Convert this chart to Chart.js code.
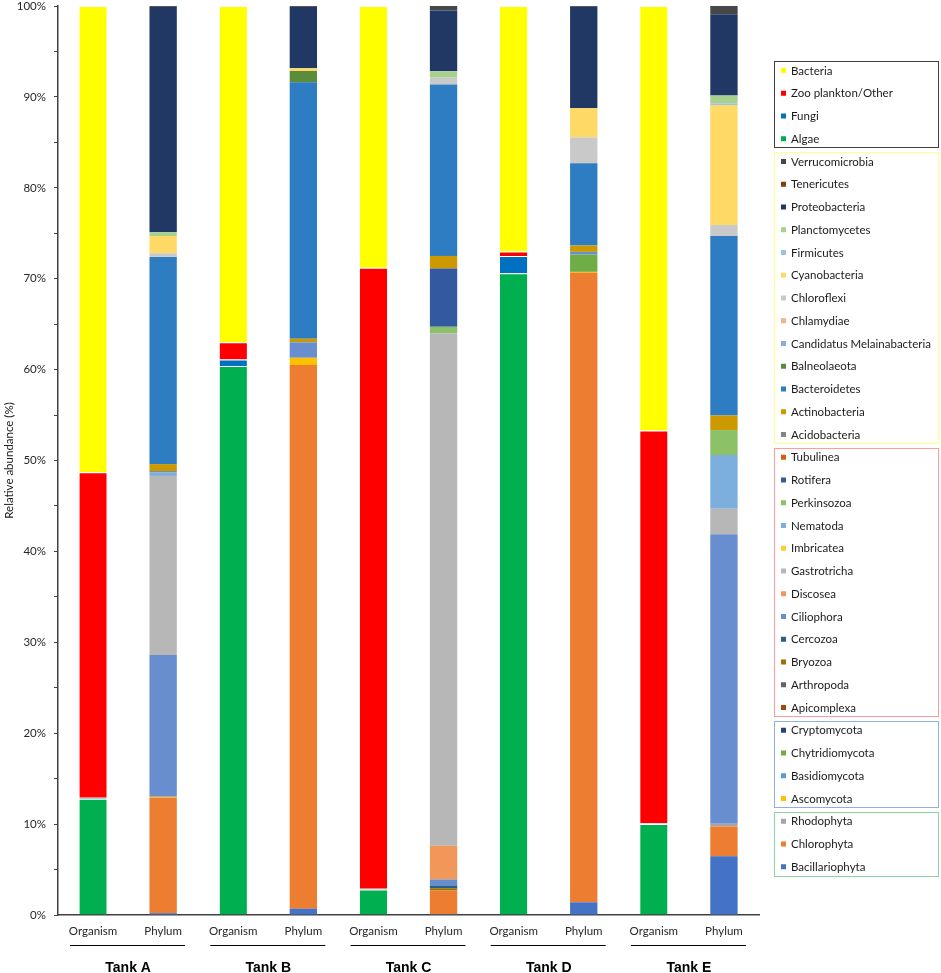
<!DOCTYPE html>
<html>
<head>
<meta charset="utf-8">
<script src="https://cdn.jsdelivr.net/npm/chart.js@4.4.1/dist/chart.umd.min.js"></script>
<style>
html,body{margin:0;padding:0;background:#fff;}
canvas{display:block;}
</style>
</head>
<body>
<canvas id="c" width="941" height="973"></canvas>
<script>
// ---- Data ----
const tanks = ['Tank A', 'Tank B', 'Tank C', 'Tank D', 'Tank E'];
const barTypes = ['Organism', 'Phylum'];
const yTicks = [0, 10, 20, 30, 40, 50, 60, 70, 80, 90, 100];

// Organism level (per tank A..E), bottom to top
const algae    = [12.8, 60.4, 2.8, 70.6, 10.0];
const fungi    = [0.1, 0.7, 0.1, 1.9, 0.1];
const zoo      = [35.8, 1.9, 68.3, 0.5, 43.2];
const bacteria = [51.3, 37.0, 28.8, 27.0, 46.7];

// Phylum level (per tank A..E), bottom to top
const bacillariophyta = [0.2, 0.7, 0.1, 1.4, 6.45];
const chlorophyta     = [12.7, 59.8, 2.6, 69.25, 3.3];
const rhodophyta      = [0, 0, 0, 0, 0.3];
const ascomycota      = [0.1, 0.8, 0, 0.1, 0];
const basidiomycota   = [0, 0, 0, 0, 0];
const chytridiomycota = [0, 0, 0, 1.9, 0];
const cryptomycota    = [0, 0, 0, 0, 0];
const apicomplexa     = [0, 0, 0, 0, 0];
const arthropoda      = [0, 0, 0, 0, 0];
const bryozoa         = [0, 0, 0.25, 0, 0];
const cercozoa        = [0, 0, 0.3, 0, 0];
const ciliophora      = [15.6, 1.7, 0.66, 0.3, 31.85];
const discosea        = [0, 0, 3.7, 0, 0];
const gastrotricha    = [19.7, 0, 56.4, 0, 2.8];
const imbricatea      = [0, 0, 0, 0, 0];
const nematoda        = [0.4, 0, 0, 0, 5.9];
const perkinsozoa     = [0, 0, 0.7, 0, 2.75];
const rotifera        = [0.1, 0, 6.4, 0, 0];
const tubulinea       = [0, 0, 0, 0, 0];
const acidobacteria   = [0, 0, 0, 0, 0];
const actinobacteria  = [0.8, 0.4, 1.4, 0.7, 1.6];
const bacteroidetes   = [22.8, 28.2, 18.85, 9.05, 19.75];
const balneolaeota    = [0, 1.25, 0, 0, 0];
const candidatus      = [0, 0, 0, 0, 0];
const chlamydiae      = [0, 0, 0, 0, 0];
const chloroflexi     = [0.4, 0, 0.75, 2.85, 1.2];
const cyanobacteria   = [1.9, 0.3, 0, 3.2, 13.2];
const firmicutes      = [0, 0, 0, 0, 0.2];
const planctomycetes  = [0.4, 0, 0.7, 0, 0.85];
const proteobacteria  = [24.8, 6.75, 6.7, 11.15, 8.95];
const tenericutes     = [0, 0, 0, 0, 0];
const verrucomicrobia = [0.1, 0.1, 0.59, 0.1, 0.9];

// Series definitions (bottom of stack first); last field = legend box group
const series = [
  ['Bacillariophyta', bacillariophyta, '#4472C4', 'phylum', 4],
  ['Chlorophyta', chlorophyta, '#ED7D31', 'phylum', 4],
  ['Rhodophyta', rhodophyta, '#A5A5A5', 'phylum', 4],
  ['Ascomycota', ascomycota, '#FFC000', 'phylum', 3],
  ['Basidiomycota', basidiomycota, '#5B9BD5', 'phylum', 3],
  ['Chytridiomycota', chytridiomycota, '#70AD47', 'phylum', 3],
  ['Cryptomycota', cryptomycota, '#264478', 'phylum', 3],
  ['Apicomplexa', apicomplexa, '#9E480E', 'phylum', 2],
  ['Arthropoda', arthropoda, '#636363', 'phylum', 2],
  ['Bryozoa', bryozoa, '#997300', 'phylum', 2],
  ['Cercozoa', cercozoa, '#255E91', 'phylum', 2],
  ['Ciliophora', ciliophora, '#698ED0', 'phylum', 2],
  ['Discosea', discosea, '#F1975A', 'phylum', 2],
  ['Gastrotricha', gastrotricha, '#B7B7B7', 'phylum', 2],
  ['Imbricatea', imbricatea, '#FFCD33', 'phylum', 2],
  ['Nematoda', nematoda, '#7CAFDD', 'phylum', 2],
  ['Perkinsozoa', perkinsozoa, '#8CC168', 'phylum', 2],
  ['Rotifera', rotifera, '#335AA1', 'phylum', 2],
  ['Tubulinea', tubulinea, '#D26012', 'phylum', 2],
  ['Acidobacteria', acidobacteria, '#848484', 'phylum', 1],
  ['Actinobacteria', actinobacteria, '#CC9900', 'phylum', 1],
  ['Bacteroidetes', bacteroidetes, '#2E7DC2', 'phylum', 1],
  ['Balneolaeota', balneolaeota, '#5B8C3A', 'phylum', 1],
  ['Candidatus Melainabacteria', candidatus, '#8FAADC', 'phylum', 1],
  ['Chlamydiae', chlamydiae, '#F4B183', 'phylum', 1],
  ['Chloroflexi', chloroflexi, '#C9C9C9', 'phylum', 1],
  ['Cyanobacteria', cyanobacteria, '#FFD966', 'phylum', 1],
  ['Firmicutes', firmicutes, '#9DC3E6', 'phylum', 1],
  ['Planctomycetes', planctomycetes, '#A9D18E', 'phylum', 1],
  ['Proteobacteria', proteobacteria, '#213864', 'phylum', 1],
  ['Tenericutes', tenericutes, '#843C0C', 'phylum', 1],
  ['Verrucomicrobia', verrucomicrobia, '#474747', 'phylum', 1],
  ['Algae', algae, '#00B050', 'organism', 0],
  ['Fungi', fungi, '#0070C0', 'organism', 0],
  ['Zoo plankton/Other', zoo, '#FF0000', 'organism', 0],
  ['Bacteria', bacteria, '#FFFF00', 'organism', 0]
];

const categories = [];
tanks.forEach(() => barTypes.forEach(b => categories.push(b)));

const datasets = series.map(([name, vals, color, level]) => {
  const data = [];
  vals.forEach(v => {
    if (level === 'organism') { data.push(v, null); } else { data.push(null, v); }
  });
  return {
    label: name,
    data: data,
    backgroundColor: color,
    borderColor: '#FFFFFF',
    borderWidth: level === 'organism' ? { top: 1, bottom: 0, left: 0, right: 0 } : 0,
    borderSkipped: false,
    barPercentage: 0.39,
    categoryPercentage: 1.0
  };
});

const legendBoxColors = ['#404040', '#FFFF8C', '#FF9B9B', '#8FB0E0', '#8ED6A0'];
const FONT = 'Lato, "Open Sans", sans-serif';

const decorPlugin = {
  id: 'decor',
  afterDraw(chart) {
    const ctx = chart.ctx;
    const x = chart.scales.x;
    ctx.save();
    // group underline + tank labels
    tanks.forEach((t, i) => {
      const c = (x.getPixelForValue(2 * i) + x.getPixelForValue(2 * i + 1)) / 2;
      ctx.strokeStyle = '#000';
      ctx.lineWidth = 1;
      ctx.beginPath();
      ctx.moveTo(c - 58, 945.5);
      ctx.lineTo(c + 57, 945.5);
      ctx.stroke();
      ctx.fillStyle = '#000';
      ctx.font = 'bold 14px "Liberation Sans", Arial, sans-serif';
      ctx.textAlign = 'center';
      ctx.textBaseline = 'alphabetic';
      ctx.fillText(t, c, 971.5);
    });
    // legend (reverse stack order)
    const items = series.slice().reverse();
    const y0 = 70.5, dy = 22.75;
    const groups = {};
    items.forEach((s, i) => {
      const y = y0 + dy * i;
      const g = s[4];
      if (!groups[g]) groups[g] = {first: y, last: y};
      groups[g].last = y;
      ctx.fillStyle = s[2];
      ctx.fillRect(781, y - 2.5, 5, 5);
      ctx.fillStyle = '#1a1a1a';
      ctx.font = '11.5px ' + FONT;
      ctx.textAlign = 'left';
      ctx.textBaseline = 'middle';
      ctx.fillText(s[0], 791, y + 0.5);
    });
    Object.keys(groups).forEach(g => {
      const gr = groups[g];
      ctx.strokeStyle = legendBoxColors[g];
      ctx.lineWidth = 1;
      const top = gr.first - 9.5, bot = gr.last + 8.5;
      ctx.strokeRect(774.5, Math.round(top) + 0.5, 164, Math.round(bot - top));
    });
    ctx.restore();
  }
};

new Chart(document.getElementById('c'), {
  type: 'bar',
  data: { labels: categories, datasets: datasets },
  plugins: [decorPlugin],
  options: {
    responsive: false,
    animation: false,
    devicePixelRatio: 1,
    layout: { padding: { left: 0, top: 6, right: 182, bottom: 0 } },
    plugins: { legend: { display: false }, tooltip: { enabled: false } },
    scales: {
      x: {
        stacked: true,
        grid: { display: false, drawTicks: false },
        border: { display: true, color: '#404040', width: 1.5 },
        ticks: { color: '#262626', font: { family: FONT, size: 11.5 }, padding: 9, maxRotation: 0, autoSkip: false },
        afterFit(s) { s.height = 58; }
      },
      y: {
        stacked: true,
        min: 0, max: 100,
        ticks: {
          stepSize: 5,
          color: '#262626',
          font: { family: FONT, size: 11.5, lineHeight: 1 },
          padding: 8,
          callback: v => (yTicks.includes(v) ? v + '%' : '')
        },
        grid: { drawOnChartArea: false, drawTicks: true, tickLength: 4, color: '#404040', lineWidth: 1 },
        border: { display: true, color: '#404040', width: 1.5 },
        title: { display: true, text: 'Relative abundance (%)', color: '#1a1a1a', font: { family: FONT, size: 11.5 }, padding: { top: 2, bottom: 0 } },
        afterFit(s) { s.width = 58; s.paddingTop = 5; s.paddingBottom = 5; }
      }
    }
  }
});
</script>
</body>
</html>
